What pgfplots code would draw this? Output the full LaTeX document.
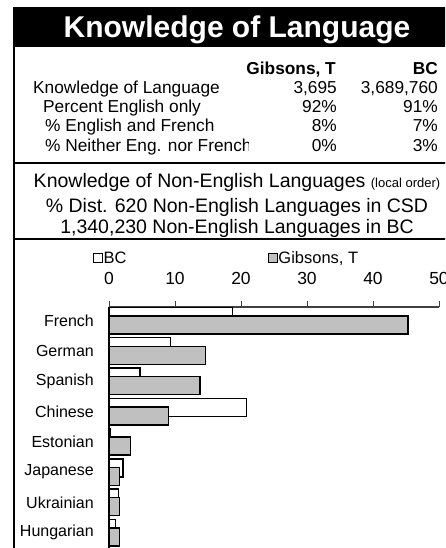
\documentclass[border=0pt]{standalone}
\usepackage{fontspec}
\setmainfont{Liberation Sans}
\usepackage{pgfplots}
\pgfplotsset{compat=1.18}
\definecolor{gbar}{HTML}{C0C0C0}
\begin{document}
\begin{tikzpicture}[x=1pt,y=1pt]
\useasboundingbox (0,0) rectangle (445,548);
\clip (0,0) rectangle (445,548);
% title band
\fill[black] (12.7,501.3) rectangle (470,540.7);
\node[white,anchor=base,inner sep=0pt,font=\fontsize{30}{30}\selectfont\bfseries] at (237,510) {Knowledge of Language};
% frame lines
\draw[line width=2pt] (13.7,502) -- (13.7,-5);
\draw[line width=2pt] (12.7,385) -- (470,385);
\draw[line width=2pt] (12.7,309) -- (470,309);
% table
\begin{scope}[every node/.style={inner sep=0pt,font=\fontsize{17.3}{17.3}\selectfont}]
\node[anchor=base east,font=\fontsize{17.3}{17.3}\selectfont\bfseries] at (336,473.5) {Gibsons, T};
\node[anchor=base east,font=\fontsize{17.3}{17.3}\selectfont\bfseries] at (438,473.5) {BC};
\node[anchor=base west] at (33,454.5) {Knowledge of Language};
\node[anchor=base east] at (337,454.5) {3,695};
\node[anchor=base east] at (438,454.5) {3,689,760};
\node[anchor=base west] at (43,435.5) {Percent English only};
\node[anchor=base east] at (337,435.5) {92\%};
\node[anchor=base east] at (438,435.5) {91\%};
\node[anchor=base west] at (45,416) {\% English and French};
\node[anchor=base east] at (337,416) {8\%};
\node[anchor=base east] at (438,416) {7\%};
\begin{scope}
\clip (20,390) rectangle (248,412);
\node[anchor=base west] at (45,396.5) {\% Neither Eng. nor French};
\end{scope}
\node[anchor=base east] at (337,396.5) {0\%};
\node[anchor=base east] at (438,396.5) {3\%};
\end{scope}
% subtitles
\begin{scope}[every node/.style={inner sep=0pt,anchor=base,font=\fontsize{19.5}{19.5}\selectfont}]
\node at (237,360) {Knowledge of Non-English Languages {\fontsize{13}{13}\selectfont (local order)}};
\node at (237,335.5) {\% Dist. 620 Non-English Languages in CSD};
\node at (237,314) {1,340,230 Non-English Languages in BC};
\end{scope}
\begin{axis}[
  at={(109pt,241pt)}, anchor=north west,
  scale only axis, width=330pt, height=243.9pt,
  xmin=0, xmax=50, ymin=-0.45, ymax=7.6, y dir=reverse,
  axis x line*=top, axis y line*=left,
  x axis line style={-, line width=1.2pt, draw=black!75},
  y axis line style={-, line width=1.3pt, draw=black},
  xbar, bar width=18pt,
  xtick={0,10,20,30,40,50},
  ytick={0,1,2,3,4,5,6,7},
  yticklabels={French,German,Spanish,Chinese,Estonian,Japanese,Ukrainian,Hungarian},
  tick align=outside, major tick length=6pt,
  xtick style={line width=1pt, draw=black!75},
  ytick style={draw=none},
  /pgf/number format/assume math mode=true,
  xticklabel style={font=\fontsize{17.5}{17.5}\selectfont, inner sep=0pt, yshift=16pt},
  yticklabel style={font=\fontsize{16}{16}\selectfont, inner sep=0pt, xshift=-9pt},
  legend columns=2,
  legend style={draw=none, fill=none, inner sep=0pt, at={(-0.05,1.2)}, anchor=west,
    font=\fontsize{16.5}{16.5}\selectfont,
    nodes={inner sep=1pt},
    /tikz/every even column/.append style={column sep=140pt}},
  legend image code/.code={\draw[#1,line width=0.9pt] (0pt,-4.5pt) rectangle (9pt,4.5pt);},
]
\addplot[draw=black, fill=white, line width=1.4pt, bar shift=4.3pt] coordinates {
 (18.7,0) (9.3,1) (4.7,2) (20.8,3) (0.2,4) (2.1,5) (1.4,6) (1.0,7)};
\addlegendentry{BC}
\addplot[draw=black, fill=gbar, line width=1.4pt, bar shift=-4.3pt] coordinates {
 (45.3,0) (14.6,1) (13.8,2) (9.0,3) (3.3,4) (1.6,5) (1.6,6) (1.6,7)};
\addlegendentry{Gibsons, T}
\end{axis}
\end{tikzpicture}
\end{document}
